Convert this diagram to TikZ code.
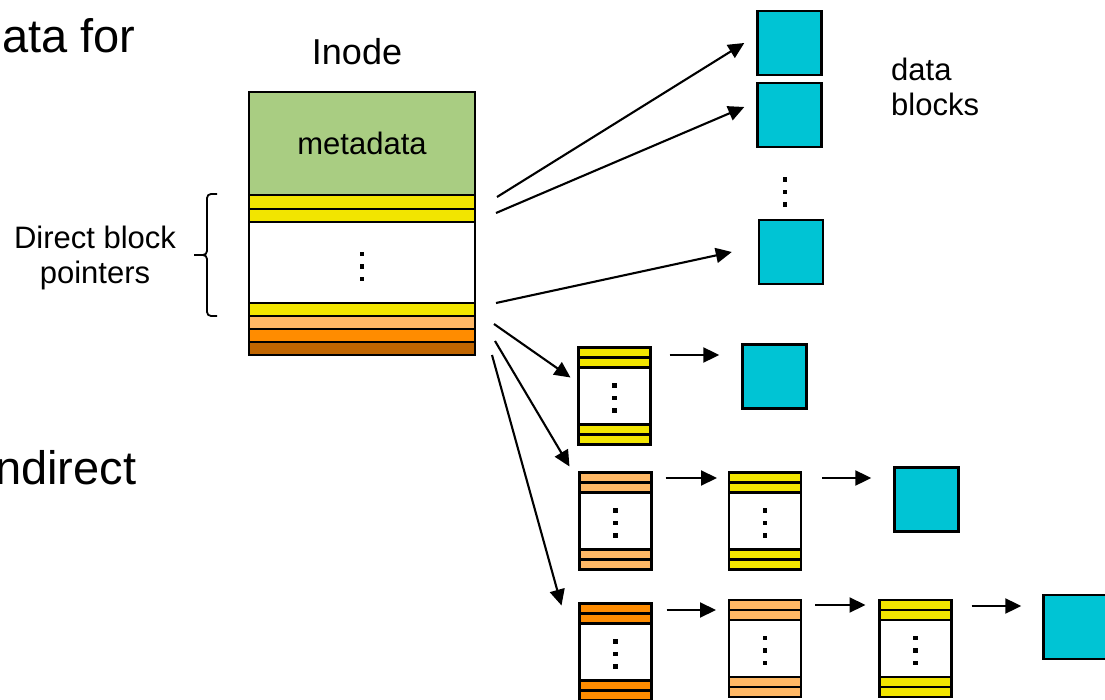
\documentclass[tikz,border=0pt]{standalone}
\usepackage{fontspec}
\setmainfont{Liberation Sans}
\usetikzlibrary{arrows.meta,positioning}

\definecolor{metagreen}{HTML}{A9CD82}
\definecolor{ptyellow}{HTML}{F2E500}
\definecolor{lightorange}{HTML}{FFB865}
\definecolor{midorange}{HTML}{FF8C00}
\definecolor{brownorange}{HTML}{C06500}
\definecolor{datacyan}{HTML}{00C4D4}

% three square dots stacked round a point, #2 moves them down
\newcommand{\vdotsat}[2]{%
    \foreach \k in {-1,0,1}
        \fill ([yshift=\k*12.5pt-#2]#1) ++(-2.2,-2.2) rectangle ++(4.4,4.4);}

\begin{document}
\begin{tikzpicture}[
        x=1pt, y=-1pt,
        cell/.style={
            draw,
            line width=2.4pt,
            minimum width=226pt,
            inner sep=0pt,
            outer sep=0pt},
        ptrblk/.style={
            draw,
            fill=white,
            line width=2.4pt,
            minimum width=72pt,
            minimum height=97pt,
            inner sep=0pt,
            outer sep=0pt},
        stripe/.style={draw, line width=2.4pt},
        datablk/.style={
            draw,
            fill=datacyan,
            line width=2.4pt,
            minimum size=64pt,
            inner sep=0pt},
        ptr/.style={-{Triangle[length=16pt,width=15pt]}, line width=2.1pt},
        label/.style={inner sep=0pt, font=\fontsize{31}{35}\selectfont}
        ]
        \useasboundingbox (0,0) rectangle (1105,700);

        % cut-off words on the left
        \node[inner sep=0pt, anchor=base west, font=\fontsize{47}{50}\selectfont] (t1) at (2,53) {ata for};
        \node[inner sep=0pt, anchor=base west, font=\fontsize{47}{50}\selectfont] (t2) at (-5,484) {ndirect};

        % the inode
        \node[label, font=\fontsize{36}{40}\selectfont] (inode) at (357,52) {Inode};
        \node[cell, fill=metagreen, minimum height=103pt, font=\fontsize{31}{36}\selectfont] (meta) at (362,143.5) {metadata};
        \foreach \n/\c/\y/\h in {% name/colour/centre/height
            s1/ptyellow/202/14pt,
            s2/ptyellow/215.5/13pt,
            mid/white/262.5/81pt,
            s3/ptyellow/309.5/13pt,
            s4/lightorange/322.5/13pt,
            s5/midorange/335.5/13pt,
            s6/brownorange/348.5/13pt}
            \node[cell, fill=\c, minimum height=\h] (\n) at (362,\y) {};
        \vdotsat{mid.center}{4pt}

        % brace for the direct pointers
        \draw[line width=1.8pt, rounded corners=4pt] (217,194) -- (207,194) -- (207,255) -- (194,255);
        \draw[line width=1.8pt, rounded corners=4pt] (194,255) -- (207,255) -- (207,316) -- (217,316);
        \node[label, align=center] (direct) at (95,258) {Direct block\\pointers};

        % data blocks
        \foreach \n/\x/\y in {d1/789.5/43, d2/789.5/115, d3/791/252,
            d4/774.5/376.5, d5/926.5/499.5, d6/1075.5/627}
            \node[datablk] (\n) at (\x,\y) {};
        \coordinate (ddots) at (785,192);
        \vdotsat{ddots}{0pt}
        \node[label, align=left, anchor=west] (dlabel) at (891,87) {data\\blocks};

        % indirect blocks
        \foreach \n/\x/\y/\c in {% name/x/y/stripe colour
            b11/614.5/396/ptyellow,
            b21/615.5/521/lightorange,
            b22/765/521/ptyellow,
            b31/615.5/652/midorange,
            b32/765/648.5/lightorange,
            b33/915.5/648.5/ptyellow}{
            \node[ptrblk] (\n) at (\x,\y) {};
            \foreach \a/\b in {0/10,10/20,77/87,87/97}
                \draw[stripe, fill=\c] ([yshift=-\a pt]\n.north west) rectangle ([yshift=-\b pt]\n.north east);
            \vdotsat{\n.center}{2pt}
        }

        % pointers out of the inode
        \foreach \i/\si/\j/\sj in {% start/shift/end/shift
            s1.east/{22,-5}/d1.west/{-12,0},
            s2.east/{21,-2.5}/d2.west/{-12,-8},
            s3.east/{21,-6.5}/d3.west/{-26,0},
            s4.east/{19,1.5}/b11.north west/{-8,30},
            s5.east/{20,5.5}/b21.north west/{-10,-6},
            s6.east/{17,6.5}/b31.north west/{-18,2}}
            \draw[ptr] ([shift={(\si)}]\i) -- ([shift={(\sj)}]\j);

        % pointers between blocks
        \foreach \i/\j/\y/\s/\t in {% start/end/height/gap start/gap end
            b11/d4/355/19/22,
            b21/b22/478/14/12,
            b22/d5/478/21/22,
            b31/b32/610/15/13,
            b32/b33/605/14/14,
            b33/d6/606/20/21}
            \draw[ptr, shorten <=\s pt, shorten >=\t pt] (\i.east |- 0,\y) -- (\j.west |- 0,\y);
\end{tikzpicture}
\end{document}
